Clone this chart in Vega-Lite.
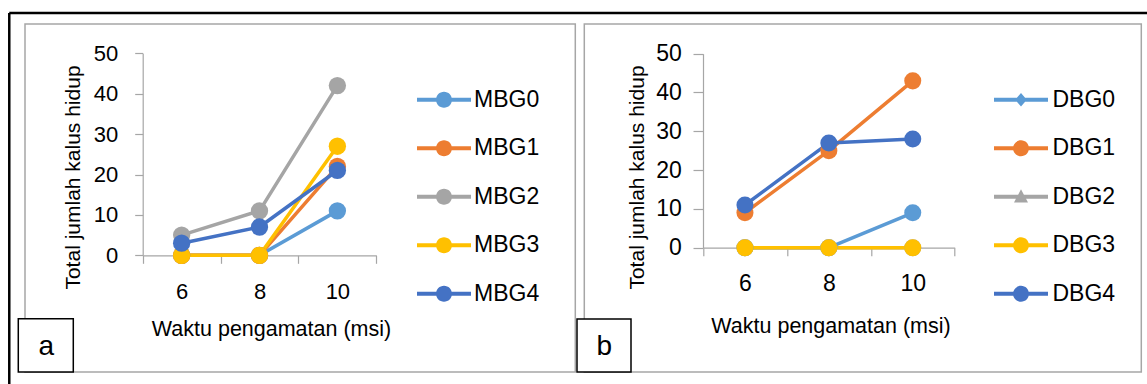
{
  "$schema": "https://vega.github.io/schema/vega-lite/v6.json",
  "padding": {"left": 7, "top": 10, "right": 0, "bottom": 0},
  "background": "white",
  "bounds": "flush",
  "spacing": 8.3,
  "config": {
    "view": {"stroke": "#A6A6A6", "strokeWidth": 1.5},
    "font": "Liberation Sans",
    "axis": {
      "labelFont": "Liberation Sans", "titleFont": "Liberation Sans",
      "labelColor": "#000000", "titleColor": "#000000", "titleFontWeight": "normal",
      "domainColor": "#A6A6A6", "tickColor": "#A6A6A6", "domainWidth": 1.2, "tickWidth": 1.2,
      "grid": false, "labelOverlap": false, "labelFlush": false
    },
    "legend": {"labelFont": "Liberation Sans", "labelColor": "#000000"}
  },
  "datasets": {
    "a": [
      {"msi": 6, "value": 0, "series": "MBG0"}, {"msi": 8, "value": 0, "series": "MBG0"}, {"msi": 10, "value": 11, "series": "MBG0"},
      {"msi": 6, "value": 0, "series": "MBG1"}, {"msi": 8, "value": 0, "series": "MBG1"}, {"msi": 10, "value": 22, "series": "MBG1"},
      {"msi": 6, "value": 5, "series": "MBG2"}, {"msi": 8, "value": 11, "series": "MBG2"}, {"msi": 10, "value": 42, "series": "MBG2"},
      {"msi": 6, "value": 0, "series": "MBG3"}, {"msi": 8, "value": 0, "series": "MBG3"}, {"msi": 10, "value": 27, "series": "MBG3"},
      {"msi": 6, "value": 3, "series": "MBG4"}, {"msi": 8, "value": 7, "series": "MBG4"}, {"msi": 10, "value": 21, "series": "MBG4"}
    ],
    "b": [
      {"msi": 6, "value": 0, "series": "DBG0"}, {"msi": 8, "value": 0, "series": "DBG0"}, {"msi": 10, "value": 9, "series": "DBG0"},
      {"msi": 6, "value": 9, "series": "DBG1"}, {"msi": 8, "value": 25, "series": "DBG1"}, {"msi": 10, "value": 43, "series": "DBG1"},
      {"msi": 6, "value": 0, "series": "DBG2"}, {"msi": 8, "value": 0, "series": "DBG2"}, {"msi": 10, "value": 0, "series": "DBG2"},
      {"msi": 6, "value": 0, "series": "DBG3"}, {"msi": 8, "value": 0, "series": "DBG3"}, {"msi": 10, "value": 0, "series": "DBG3"},
      {"msi": 6, "value": 11, "series": "DBG4"}, {"msi": 8, "value": 27, "series": "DBG4"}, {"msi": 10, "value": 28, "series": "DBG4"}
    ]
  },
  "resolve": {"scale": {"color": "independent", "shape": "independent", "fill": "independent"}},
  "hconcat": [
    {
      "width": 550.3,
      "height": 348,
      "data": {"name": "a"},
      "layer": [
        {
          "mark": {"type": "line", "strokeWidth": 3.5, "strokeCap": "round", "strokeJoin": "round"},
          "encoding": {
            "x": {"field": "msi", "type": "quantitative",
              "scale": {"domain": [5, 11], "range": [117.7, 351.3], "nice": false, "zero": false},
              "axis": {"title": "Waktu pengamatan (msi)", "values": [5, 6, 7, 8, 9, 10, 11], "format": "d",
                "labelExpr": "datum.value % 2 == 0 ? datum.label : ''",
                "tickOpacity": {"condition": {"test": "datum.value % 2 == 0", "value": 0}, "value": 1},
                "offset": -116.7, "tickSize": 8, "labelPadding": 18, "labelFontSize": 22,
                "titleFontSize": 21.5, "titleX": 246, "titleY": 80, "titleBaseline": "alphabetic", "titleAlign": "center"}},
            "y": {"field": "value", "type": "quantitative",
              "scale": {"domain": [0, 50], "range": [231.3, 29.3], "nice": false, "zero": false},
              "axis": {"title": "Total jumlah kalus hidup", "values": [0, 10, 20, 30, 40, 50],
                "offset": -117.7, "tickSize": 8, "labelPadding": 17, "labelFontSize": 22,
                "titleFontSize": 21, "titleX": -63.7, "titleY": 153, "titleAngle": -90,
                "titleBaseline": "alphabetic", "titleAlign": "center"}},
            "color": {"field": "series", "type": "nominal",
              "scale": {"range": ["#5B9BD5", "#ED7D31", "#A5A5A5", "#FFC000", "#4472C4"]},
              "legend": null}
          }
        },
        {
          "mark": {"type": "point", "filled": true, "opacity": 1, "size": 300, "strokeWidth": 0},
          "encoding": {
            "x": {"field": "msi", "type": "quantitative"},
            "y": {"field": "value", "type": "quantitative"},
            "color": {"field": "series", "type": "nominal", "legend": null}
          }
        },
        {
          "transform": [{"filter": "false"}],
          "mark": {"type": "point", "filled": true, "opacity": 1},
          "encoding": {
            "x": {"field": "msi", "type": "quantitative"},
            "y": {"field": "value", "type": "quantitative"},
            "fill": {"field": "series", "type": "nominal",
              "scale": {"domain": ["MBG0", "MBG1", "MBG2", "MBG3", "MBG4"], "range": ["#5B9BD5", "#ED7D31", "#A5A5A5", "#FFC000", "#4472C4"]},
              "legend": {"title": null, "orient": "none", "legendX": 407.5, "legendY": 64.3, "padding": 0,
                "symbolSize": 64, "symbolStrokeWidth": 0, "symbolOpacity": 1, "labelOffset": 18.5,
                "labelFontSize": 23, "rowPadding": 24.5, "labelLimit": 0}},
            "shape": {"field": "series", "type": "nominal",
              "scale": {"domain": ["MBG0", "MBG1", "MBG2", "MBG3", "MBG4"],
                "range": [
                  "M-6.75,-0.5L6.75,-0.5L6.75,0.5L-6.75,0.5Z M-2,0A2,2,0,1,1,2,0A2,2,0,1,1,-2,0Z",
                  "M-6.75,-0.5L6.75,-0.5L6.75,0.5L-6.75,0.5Z M-2,0A2,2,0,1,1,2,0A2,2,0,1,1,-2,0Z",
                  "M-6.75,-0.5L6.75,-0.5L6.75,0.5L-6.75,0.5Z M-2,0A2,2,0,1,1,2,0A2,2,0,1,1,-2,0Z",
                  "M-6.75,-0.5L6.75,-0.5L6.75,0.5L-6.75,0.5Z M-2,0A2,2,0,1,1,2,0A2,2,0,1,1,-2,0Z",
                  "M-6.75,-0.5L6.75,-0.5L6.75,0.5L-6.75,0.5Z M-2,0A2,2,0,1,1,2,0A2,2,0,1,1,-2,0Z"
                ]},
              "legend": {"title": null, "orient": "none", "legendX": 407.5, "legendY": 64.3, "padding": 0,
                "symbolSize": 64, "symbolStrokeWidth": 0, "symbolOpacity": 1, "labelOffset": 18.5,
                "labelFontSize": 23, "rowPadding": 24.5, "labelLimit": 0}}
          }
        },
        {
          "data": {"values": [{}]},
          "mark": {"type": "rule", "color": "#000000", "strokeWidth": 2.5},
          "encoding": {"x": {"datum": 1.573}, "x2": {"datum": 30.796}, "y": {"datum": 60}}
        },
        {
          "data": {"values": [{}]},
          "mark": {"type": "rule", "color": "#000000", "strokeWidth": 2.5},
          "encoding": {"x": {"datum": 1.573}, "y": {"datum": 60}, "y2": {"datum": -32.1}}
        },
        {
          "data": {"values": [{}]},
          "mark": {"type": "rect", "fill": "#FFFFFF", "stroke": "#000000", "strokeWidth": 1.5},
          "encoding": {"x": {"datum": 1.8045}, "x2": {"datum": 3.2173}, "y": {"datum": -15.69}, "y2": {"datum": -28.89}}
        },
        {
          "data": {"values": [{}]},
          "mark": {"type": "text", "fontSize": 28, "align": "center", "baseline": "alphabetic", "color": "#000000"},
          "encoding": {"x": {"datum": 2.524}, "y": {"datum": -24.68}, "text": {"value": "a"}}
        }
      ]
    },
    {
      "width": 557,
      "height": 348,
      "data": {"name": "b"},
      "layer": [
        {
          "mark": {"type": "line", "strokeWidth": 3.5, "strokeCap": "round", "strokeJoin": "round"},
          "encoding": {
            "x": {"field": "msi", "type": "quantitative",
              "scale": {"domain": [5, 11], "range": [118.7, 370.4], "nice": false, "zero": false},
              "axis": {"title": "Waktu pengamatan (msi)", "values": [5, 6, 7, 8, 9, 10, 11], "format": "d",
                "labelExpr": "datum.value % 2 == 0 ? datum.label : ''",
                "tickOpacity": {"condition": {"test": "datum.value % 2 == 0", "value": 0}, "value": 1},
                "offset": -124.3, "tickSize": 8, "labelPadding": 16.5, "labelFontSize": 23,
                "titleFontSize": 21.5, "titleX": 246.2, "titleY": 84.3, "titleBaseline": "alphabetic", "titleAlign": "center"}},
            "y": {"field": "value", "type": "quantitative",
              "scale": {"domain": [0, 50], "range": [223.7, 29.7], "nice": false, "zero": false},
              "axis": {"title": "Total jumlah kalus hidup", "values": [0, 10, 20, 30, 40, 50],
                "offset": -118.7, "tickSize": 10, "labelPadding": 11.7, "labelFontSize": 23,
                "titleFontSize": 21, "titleX": -59.5, "titleY": 153, "titleAngle": -90,
                "titleBaseline": "alphabetic", "titleAlign": "center"}},
            "color": {"field": "series", "type": "nominal",
              "scale": {"range": ["#5B9BD5", "#ED7D31", "#A5A5A5", "#FFC000", "#4472C4"]},
              "legend": null}
          }
        },
        {
          "mark": {"type": "point", "filled": true, "opacity": 1, "size": 290, "strokeWidth": 0},
          "encoding": {
            "x": {"field": "msi", "type": "quantitative"},
            "y": {"field": "value", "type": "quantitative"},
            "color": {"field": "series", "type": "nominal", "legend": null}
          }
        },
        {
          "transform": [{"filter": "false"}],
          "mark": {"type": "point", "filled": true, "opacity": 1},
          "encoding": {
            "x": {"field": "msi", "type": "quantitative"},
            "y": {"field": "value", "type": "quantitative"},
            "fill": {"field": "series", "type": "nominal",
              "scale": {"domain": ["DBG0", "DBG1", "DBG2", "DBG3", "DBG4"], "range": ["#5B9BD5", "#ED7D31", "#A5A5A5", "#FFC000", "#4472C4"]},
              "legend": {"title": null, "orient": "none", "legendX": 425.2, "legendY": 64.3, "padding": 0,
                "symbolSize": 64, "symbolStrokeWidth": 0, "symbolOpacity": 1, "labelOffset": 20,
                "labelFontSize": 23, "rowPadding": 24.5, "labelLimit": 0}},
            "shape": {"field": "series", "type": "nominal",
              "scale": {"domain": ["DBG0", "DBG1", "DBG2", "DBG3", "DBG4"],
                "range": [
                  "M-6.75,-0.5L6.75,-0.5L6.75,0.5L-6.75,0.5Z M0,-1.7L1.45,0L0,1.7L-1.45,0Z",
                  "M-6.75,-0.5L6.75,-0.5L6.75,0.5L-6.75,0.5Z M-2,0A2,2,0,1,1,2,0A2,2,0,1,1,-2,0Z",
                  "M-6.75,-0.5L6.75,-0.5L6.75,0.5L-6.75,0.5Z M0,-1.9L1.75,1.4L-1.75,1.4Z",
                  "M-6.75,-0.5L6.75,-0.5L6.75,0.5L-6.75,0.5Z M-2,0A2,2,0,1,1,2,0A2,2,0,1,1,-2,0Z",
                  "M-6.75,-0.5L6.75,-0.5L6.75,0.5L-6.75,0.5Z M-2,0A2,2,0,1,1,2,0A2,2,0,1,1,-2,0Z"
                ]},
              "legend": {"title": null, "orient": "none", "legendX": 425.2, "legendY": 64.3, "padding": 0,
                "symbolSize": 64, "symbolStrokeWidth": 0, "symbolOpacity": 1, "labelOffset": 20,
                "labelFontSize": 23, "rowPadding": 24.5, "labelLimit": 0}}
          }
        },
        {
          "data": {"values": [{}]},
          "mark": {"type": "rect", "fill": "#FFFFFF", "stroke": "#000000", "strokeWidth": 1.5},
          "encoding": {"x": {"datum": 1.9964}, "x2": {"datum": 3.2837}, "y": {"datum": -18.376}, "y2": {"datum": -32.035}}
        },
        {
          "data": {"values": [{}]},
          "mark": {"type": "text", "fontSize": 28, "align": "center", "baseline": "alphabetic", "color": "#000000"},
          "encoding": {"x": {"datum": 2.6448}, "y": {"datum": -27.65}, "text": {"value": "b"}}
        }
      ]
    }
  ]
}
